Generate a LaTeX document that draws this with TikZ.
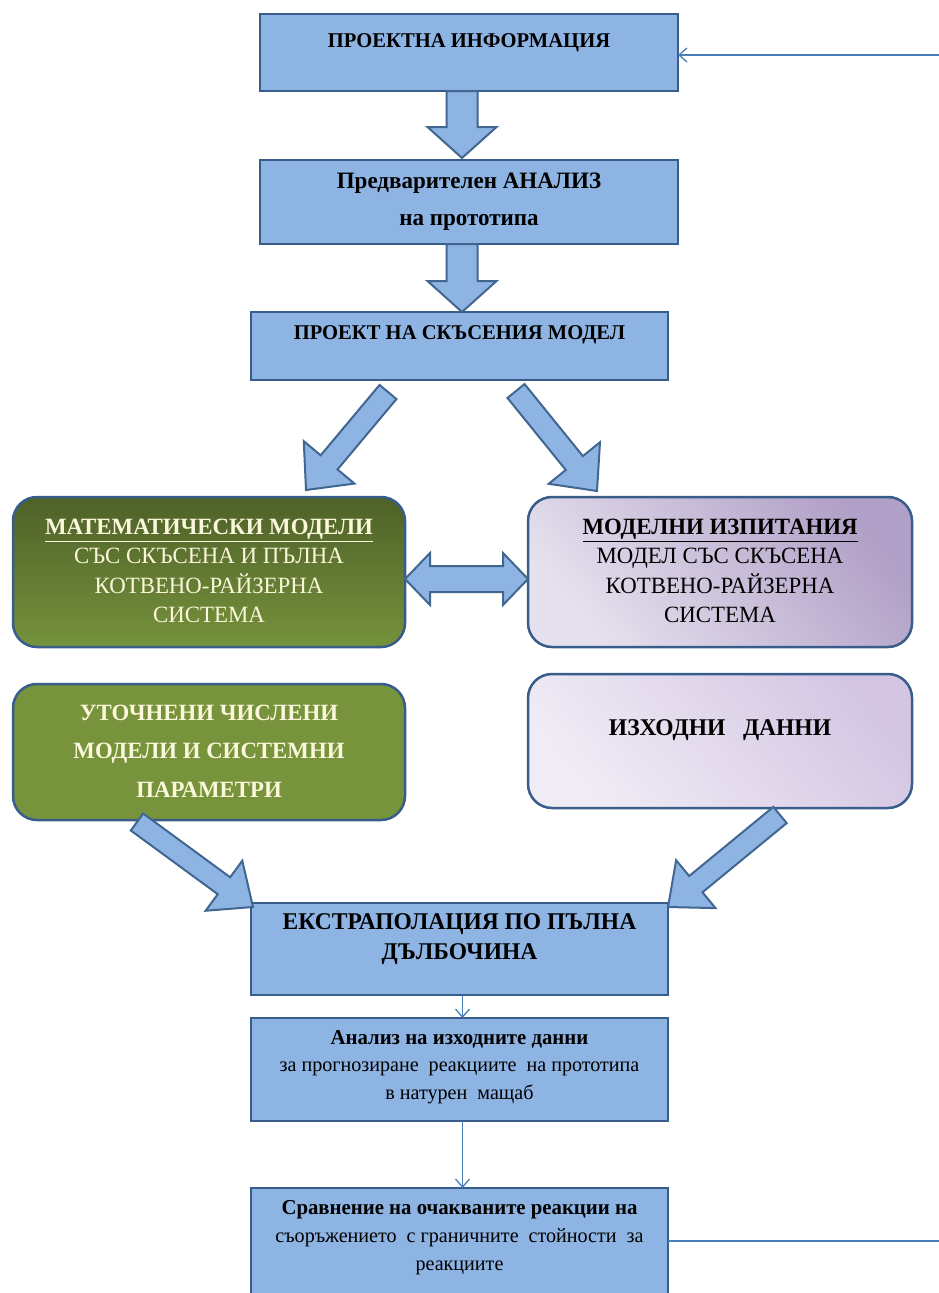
\documentclass[tikz,border=0pt]{standalone}
\usepackage{fontspec}
\setmainfont{Liberation Serif}[FakeStretch=0.98]
\usetikzlibrary{calc,arrows.meta}
\definecolor{bfill}{HTML}{8EB4E3}
\definecolor{bdraw}{HTML}{385D8A}
\definecolor{adraw}{HTML}{41668F}
\definecolor{lblue}{HTML}{4A7EBB}
\definecolor{gtop}{HTML}{4E6128}
\definecolor{gbot}{HTML}{76923C}
\definecolor{gsolid}{HTML}{77933C}
\definecolor{pdark}{HTML}{B1A0C7}
\definecolor{plight}{HTML}{E6E1EE}
\definecolor{qdark}{HTML}{D4C6E3}
\definecolor{qlight}{HTML}{F0ECF5}
\definecolor{cream}{HTML}{FBF7DA}
\tikzset{
  bluebox/.style={draw=bdraw, line width=2.5pt, fill=bfill, inner sep=0pt, outer sep=0pt},
  roundbox/.style={draw=bdraw, line width=2.5pt, rounded corners=24pt, inner sep=0pt, outer sep=0pt},
  txt/.style={align=center, inner sep=0pt},
  blockarrow/.style={draw=adraw, line width=2pt, fill=bfill, line join=miter},
  thinarrow/.style={draw=lblue, line width=1.3pt, -{Straight Barb[length=8pt,width=14pt,line width=1.3pt]}},
}
\newcommand\blockarr[5]{%
  \draw[blockarrow] ($(#1)!#3!90:(#2)$) -- ($(#2)!#5!(#1)!#3!-90:(#1)$)
   -- ($(#2)!#5!(#1)!#4!-90:(#1)$) -- (#2) -- ($(#2)!#5!(#1)!#4!90:(#1)$)
   -- ($(#2)!#5!(#1)!#3!90:(#1)$) -- ($(#1)!#3!-90:(#2)$) -- cycle;}
\begin{document}
\begin{tikzpicture}[x=1pt,y=-1pt]
\useasboundingbox (0,0) rectangle (939,1293);
% boxes
\node[bluebox, minimum width=418pt, minimum height=77pt] (B1) at (469,52.5) {};
\node[bluebox, minimum width=418pt, minimum height=84pt] (B2) at (469,202) {};
\node[bluebox, minimum width=417pt, minimum height=68pt] (B3) at (459.5,346) {};
\node[roundbox, top color=gtop, bottom color=gbot, minimum width=392pt, minimum height=150pt] (B4) at (209,572) {};
\node[roundbox, top color=pdark, bottom color=plight, shading angle=-50, minimum width=384pt, minimum height=150pt] (B5) at (720,572) {};
\node[roundbox, fill=gsolid, minimum width=392pt, minimum height=136pt] (B6) at (209,752) {};
\node[roundbox, top color=qdark, bottom color=qlight, shading angle=-50, minimum width=384pt, minimum height=134pt] (B7) at (720,741) {};
\node[bluebox, minimum width=417pt, minimum height=92pt] (B8) at (459.5,949) {};
\node[bluebox, minimum width=417pt, minimum height=103pt] (B9) at (459.5,1069.5) {};
\node[bluebox, minimum width=417pt, minimum height=112pt] (B10) at (459.5,1244) {};
% texts
\node[txt, font=\fontsize{21}{25}\selectfont\bfseries] (T1) at (469,43) {ПРОЕКТНА ИНФОРМАЦИЯ};
\node[txt, font=\fontsize{23.5}{37}\selectfont\bfseries] (T2) at (469,202) {Предварителен АНАЛИЗ\\на прототипа};
\node[txt, font=\fontsize{21}{25}\selectfont\bfseries] (T3) at (459.5,335) {ПРОЕКТ НА СКЪСЕНИЯ МОДЕЛ};
\node[txt, text=cream, font=\fontsize{23.3}{29.5}\selectfont] (T4) at (209,571) {\textbf{\underline{МАТЕМАТИЧЕСКИ МОДЕЛИ}}\\СЪС СКЪСЕНА И ПЪЛНА\\КОТВЕНО-РАЙЗЕРНА\\СИСТЕМА};
\node[txt, text=black, font=\fontsize{23.3}{29.5}\selectfont] (T5) at (720,571) {\textbf{\underline{МОДЕЛНИ ИЗПИТАНИЯ}}\\МОДЕЛ СЪС СКЪСЕНА\\КОТВЕНО-РАЙЗЕРНА\\СИСТЕМА};
\node[txt, text=cream, font=\fontsize{23.3}{38.5}\selectfont\bfseries] (T6) at (209,751) {УТОЧНЕНИ ЧИСЛЕНИ\\МОДЕЛИ И СИСТЕМНИ\\ПАРАМЕТРИ};
\node[txt, font=\fontsize{24}{26}\selectfont\bfseries] (T7) at (720,730) {ИЗХОДНИ\ \ \ ДАННИ};
\node[txt, font=\fontsize{24}{30}\selectfont\bfseries] (T8) at (459.5,939) {ЕКСТРАПОЛАЦИЯ ПО ПЪЛНА\\ДЪЛБОЧИНА};
\node[txt, font=\fontsize{20.5}{27.5}\selectfont] (T9) at (459.5,1067) {\textbf{\fontsize{21.2}{27.5}\selectfont Анализ на изходните данни}\\за прогнозиране\ \ реакциите\ \ на прототипа\\в натурен\ \ мащаб};
\node[txt, font=\fontsize{20.5}{28}\selectfont] (T10) at (459.5,1238) {\textbf{\fontsize{21.2}{28}\selectfont Сравнение на очакваните реакции на}\\съоръжението\ \ с граничните\ \ стойности\ \ за\\реакциите};
% block arrows
\coordinate (a1t) at (462,91);  \coordinate (a1h) at (462,158);
\coordinate (a2t) at (462,244); \coordinate (a2h) at (462,312);
\coordinate (a3t) at (388,392); \coordinate (a3h) at (306,490);
\coordinate (a4t) at (516,391); \coordinate (a4h) at (597,491);
\coordinate (a5t) at (137,822); \coordinate (a5h) at (253,907);
\coordinate (a6t) at (780,815); \coordinate (a6h) at (668,907);
\blockarr{a1t}{a1h}{15.5pt}{34.5pt}{31pt}
\blockarr{a2t}{a2h}{15.5pt}{34.5pt}{31pt}
\blockarr{a3t}{a3h}{11pt}{33pt}{36pt}
\blockarr{a4t}{a4h}{11pt}{33pt}{36pt}
\blockarr{a5t}{a5h}{10.5pt}{31pt}{36pt}
\blockarr{a6t}{a6h}{10.5pt}{31pt}{36pt}
% double arrow between B4 and B5
\coordinate (dl) at (B4.east |- 0,579);
\coordinate (dr) at (B5.west |- 0,579);
\draw[blockarrow] (dl) -- ($(dl)+(25,-26)$) -- ($(dl)+(25,-13)$) -- ($(dr)+(-25,-13)$) -- ($(dr)+(-25,-26)$) -- (dr)
  -- ($(dr)+(-25,26)$) -- ($(dr)+(-25,13)$) -- ($(dl)+(25,13)$) -- ($(dl)+(25,26)$) -- cycle;
% thin arrows
\draw[thinarrow] ([xshift=3pt]B8.south) -- ([xshift=3pt]B9.north);
\draw[thinarrow] ([xshift=3pt]B9.south) -- ([xshift=3pt]B10.north);
\draw[thinarrow] ([yshift=3pt]B10.east) -- ++(290,0) |- ([yshift=-2.5pt]B1.east);
\end{tikzpicture}
\end{document}
